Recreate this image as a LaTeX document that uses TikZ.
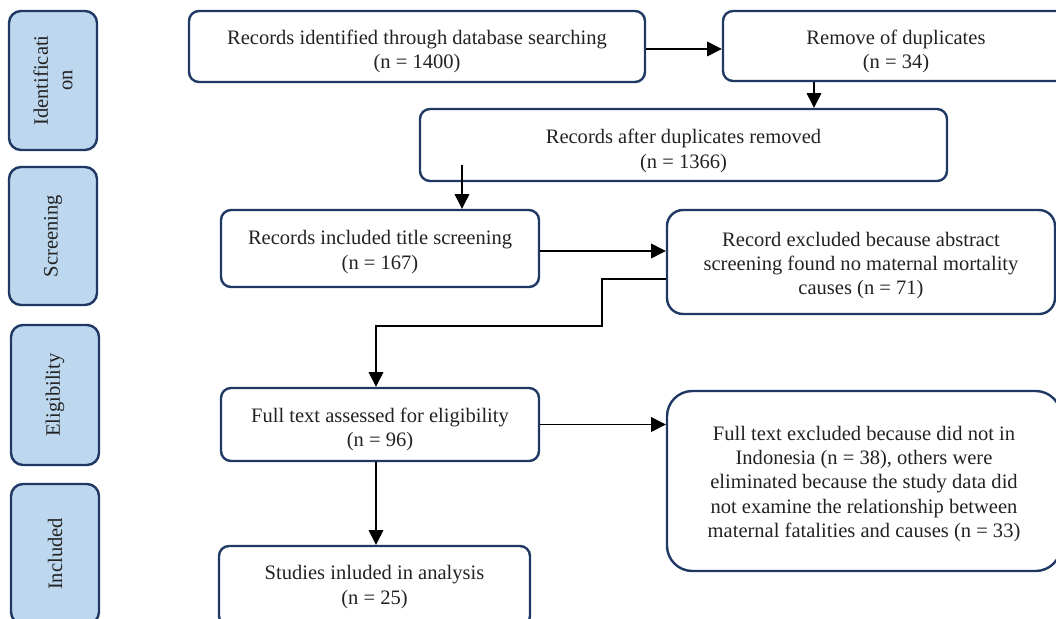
\documentclass[tikz,border=0pt]{standalone}
\usepackage{fontspec}
\setmainfont{Liberation Serif}
\usetikzlibrary{arrows.meta,calc}
\definecolor{navy}{HTML}{1F3864}
\definecolor{stagefill}{HTML}{BDD7EE}
\definecolor{txt}{HTML}{222222}
\begin{document}
\begin{tikzpicture}[x=0.75pt,y=-0.75pt,
  box/.style={draw=navy, line width=1.8pt, rounded corners=7.5pt, fill=white, inner sep=0pt},
  lbl/.style={align=center, inner sep=0pt, text=txt, font=\fontsize{15.4}{18.2}\selectfont},
  stagebox/.style={box, lbl, fill=stagefill, rotate=90, rounded corners=9pt},
  arr/.style={line width=0.9pt, draw=black, -{Triangle[length=11pt,width=11pt]}}]
\useasboundingbox (0,0) rectangle (1056,618);
\clip (0,0) rectangle (1056,618);

% stage boxes
\node[stagebox, minimum width=104.25pt, minimum height=66pt] (s1) at (53,80.5) {Identificati\\on};
\node[stagebox, minimum width=103.5pt, minimum height=66pt] (s2) at (53,236) {Screening};
\node[stagebox, minimum width=105pt, minimum height=66pt] (s3) at (55,395) {Eligibility};
\node[stagebox, minimum width=105pt, minimum height=66pt] (s4) at (55,554) {Included};

% flow boxes
\node[box, minimum width=342pt, minimum height=53.25pt] (b1) at (417,46.5) {};
\node[lbl] (t1) at ($(b1)+(0,5)$) {Records identified through database searching\\(n = 1400)};
\node[box, minimum width=259.5pt, minimum height=52.5pt] (b2) at (896,46) {};
\node[lbl] (t2) at ($(b2)+(0,5.5)$) {Remove of duplicates\\(n = 34)};
\node[box, minimum width=395.25pt, minimum height=54pt] (b3) at (683.5,145) {};
\node[lbl] (t3) at ($(b3)+(0,6)$) {Records after duplicates removed\\(n = 1366)};
\node[box, minimum width=238.5pt, minimum height=57.75pt] (b4) at (380,248.5) {};
\node[lbl] (t4) at ($(b4)+(0,3.5)$) {Records included title screening\\(n = 167)};
\node[box, minimum width=291pt, minimum height=78pt, rounded corners=12pt] (b5) at (861,262) {};
\node[lbl] (t5) at ($(b5)+(0,3.5)$) {Record excluded because abstract\\screening found no maternal mortality\\causes (n = 71)};
\node[box, minimum width=238.5pt, minimum height=54.75pt] (b6) at (380,424.5) {};
\node[lbl] (t6) at ($(b6)+(0,5)$) {Full text assessed for eligibility\\(n = 96)};
\node[box, minimum width=233.25pt, minimum height=60pt] (b7) at (374.5,586) {};
\node[lbl] (t7) at ($(b7)+(0,1)$) {Studies inluded in analysis\\(n = 25)};
\node[box, minimum width=295.5pt, minimum height=135pt, rounded corners=19pt] (b8) at (864,481) {};
\node[lbl] (t8) at ($(b8)+(0,3)$) {Full text excluded because did not in\\Indonesia (n = 38), others were\\eliminated because the study data did\\not examine the relationship between\\maternal fatalities and causes (n = 33)};

% connectors
\coordinate (k12) at (0,49);
\draw[arr] (k12 -| b1.east) -- (k12 -| b2.west);
\coordinate (k23) at (814,0);
\draw[arr] (k23 |- b2.south) -- (k23 |- b3.north);
\coordinate (k34) at (462,165);
\draw[arr] (k34) -- (k34 |- b4.north);
\coordinate (k45) at (0,251);
\draw[arr] (k45 -| b4.east) -- (k45 -| b5.west);
\coordinate (k56) at (602,279);
\coordinate (k56b) at (376,326);
\draw[arr] (k56 -| b5.west) -- (k56) |- (k56b) -- (k56b |- b6.north);
\draw[arr] (b6.east) -- (b6.east -| b8.west);
\coordinate (k67) at (376,0);
\draw[arr] (k67 |- b6.south) -- (k67 |- b7.north);
\end{tikzpicture}
\end{document}
